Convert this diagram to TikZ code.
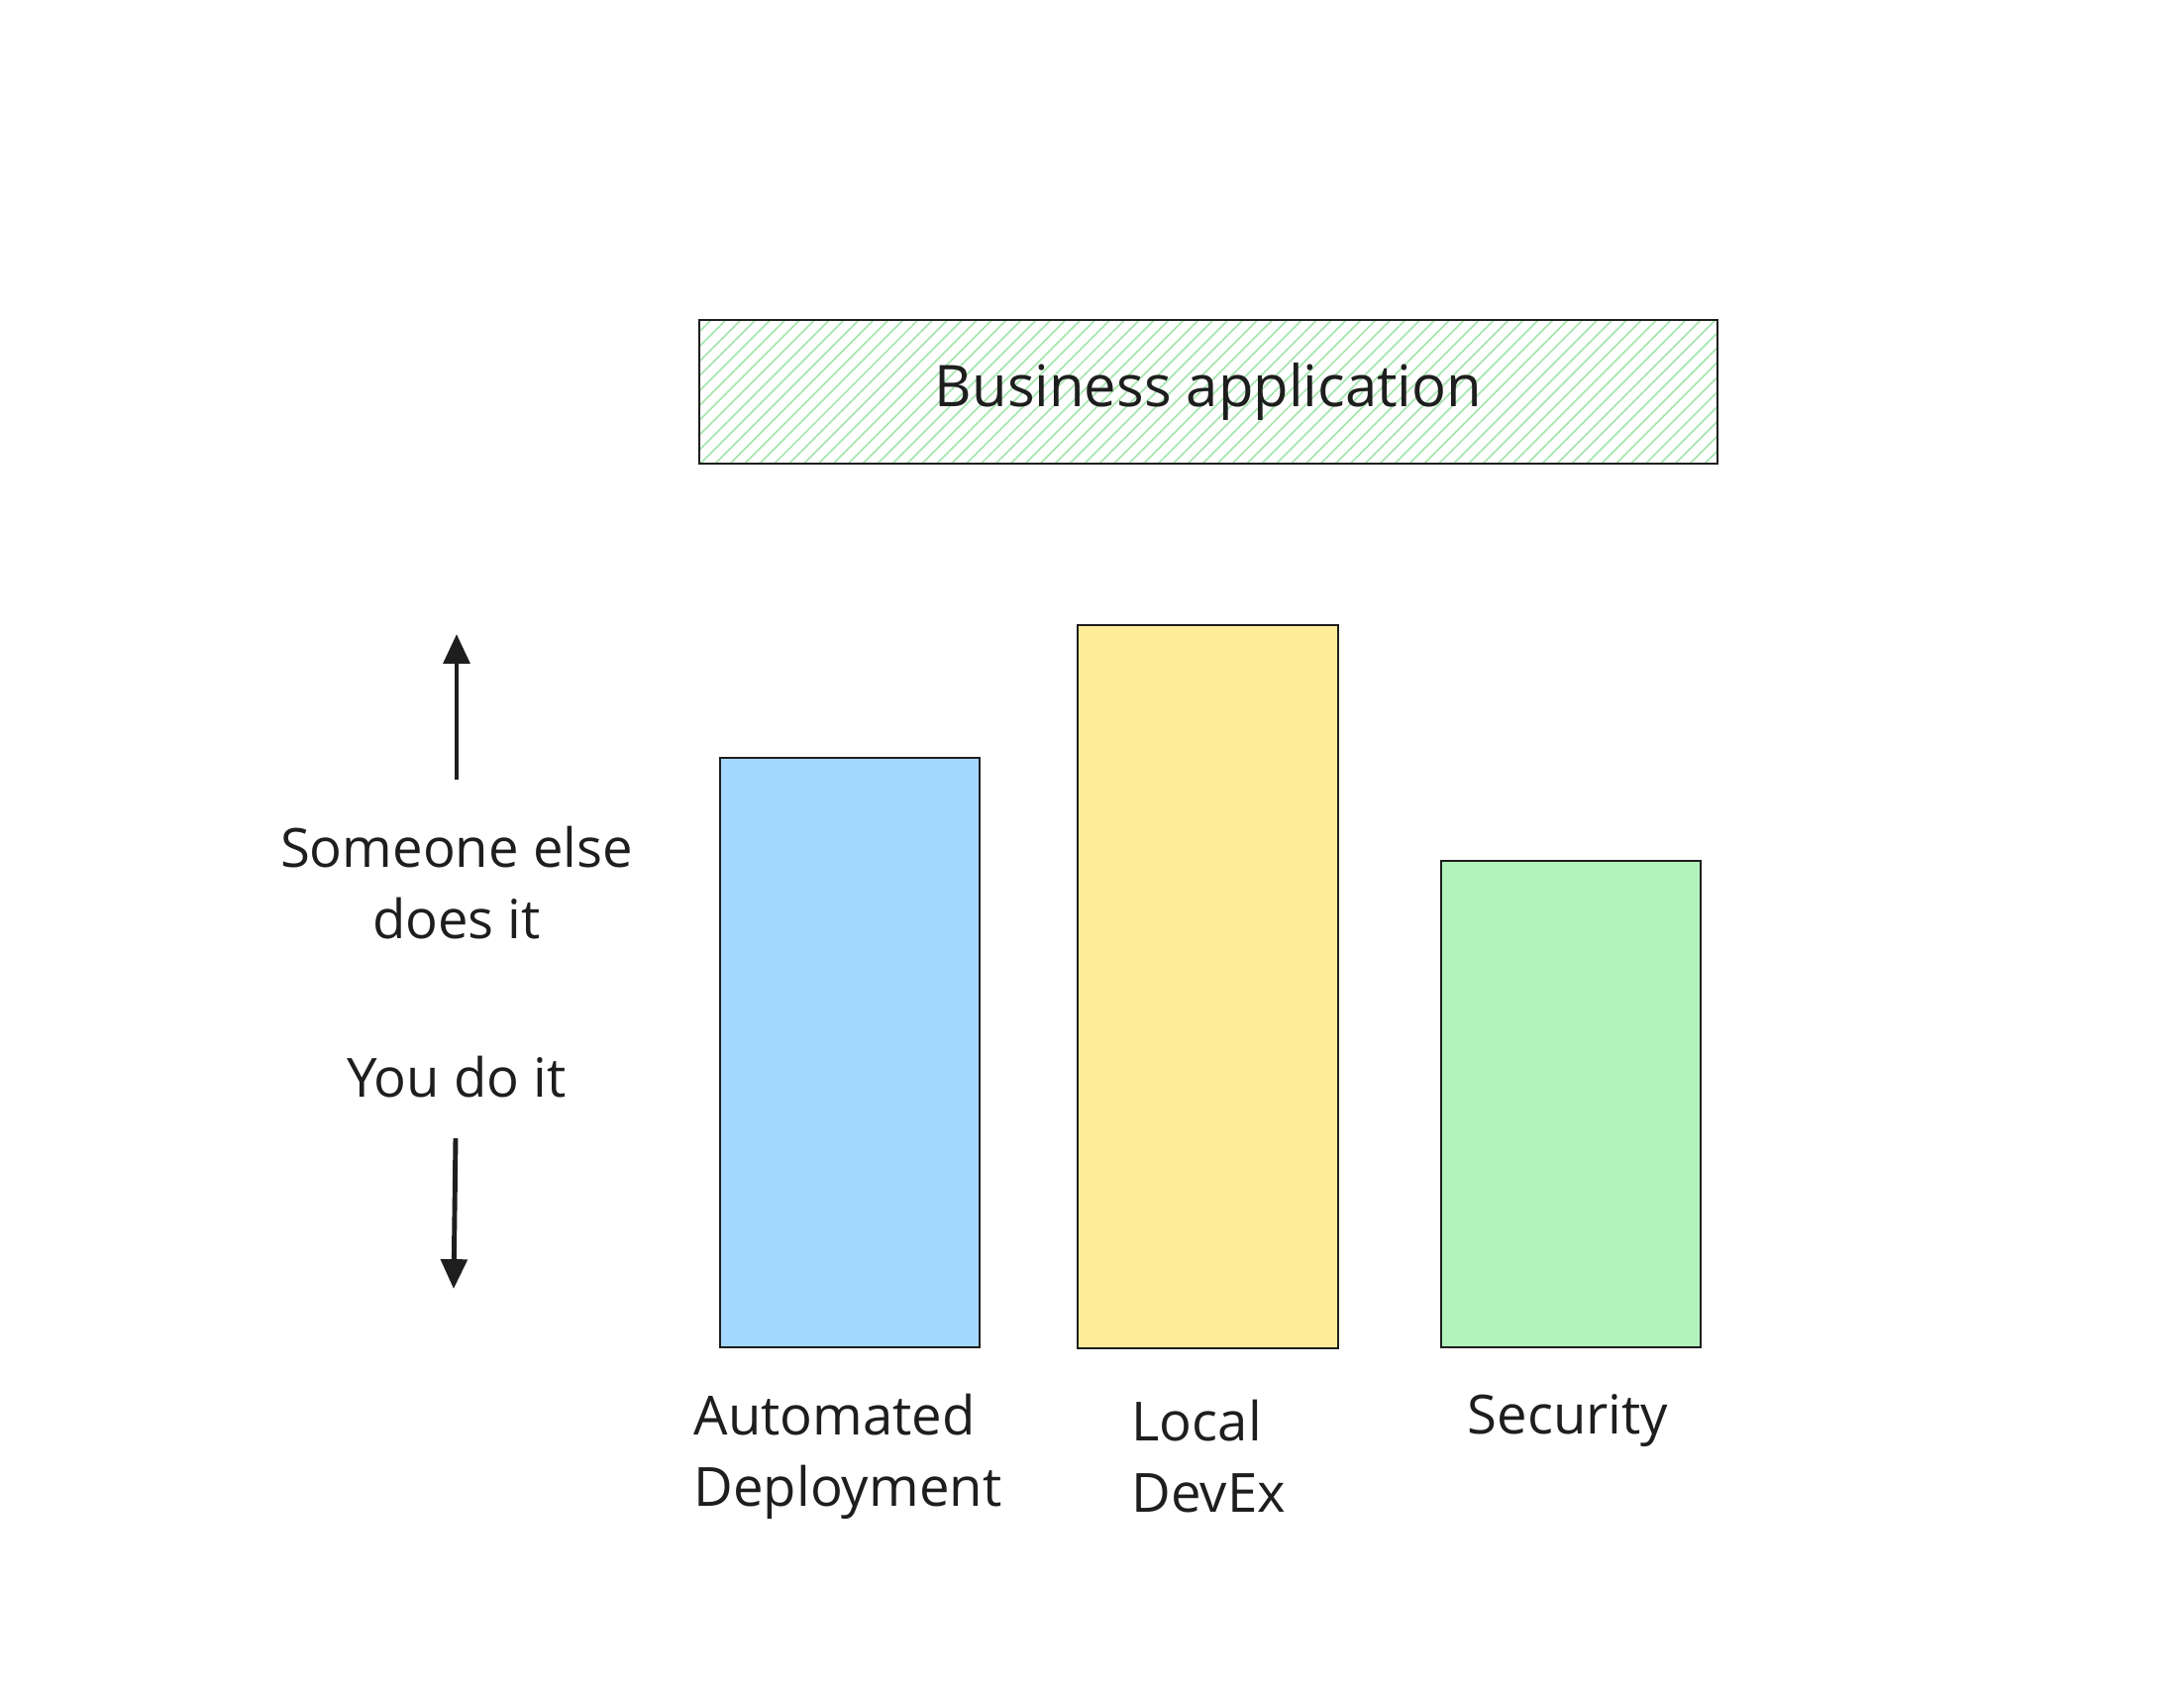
\documentclass[tikz,border=0pt]{standalone}
\usepackage{fontspec}
\setmainfont{Open Sans}
\usepackage{tikz}
\usetikzlibrary{arrows.meta,positioning,patterns.meta}

\definecolor{barblue}{HTML}{A5D8FF}
\definecolor{baryellow}{HTML}{FFEC99}
\definecolor{bargreen}{HTML}{B2F2BB}
\definecolor{hatchgreen}{HTML}{A8E6B0}
\definecolor{ink}{HTML}{1E1E1E}

\begin{document}
\begin{tikzpicture}[
    >={Triangle[length=8.5pt,width=7.5pt]},
    barre/.style={
        draw=ink,
        line width=0.8pt,
        inner sep=0pt
    },
    titre/.style={
        draw=ink,
        line width=0.8pt,
        minimum width=10.28cm,
        minimum height=1.45cm,
        pattern={Lines[angle=45,distance=3pt,line width=0.5pt]},
        pattern color=hatchgreen,
        font=\fontsize{16.5}{20}\selectfont
    },
    libelle/.style={
        font=\fontsize{15.5}{20.5}\selectfont,
        text=ink,
        inner sep=0pt
    },
    fleche/.style={
        ->,
        draw=ink,
        line width=1.4pt
    }
]

% Canvas
\useasboundingbox (0,0) rectangle (22.05,-17.12);

% Top box
\node[titre, text=ink] (app) at (12.20,-3.955) {Business application};

% Bars
\draw[barre, fill=barblue] (7.27,-13.60) rectangle (9.89,-7.65);
\draw[barre, fill=baryellow] (10.88,-13.61) rectangle (13.51,-6.31);
\draw[barre, fill=bargreen] (14.55,-13.60) rectangle (17.17,-8.69);

% Bar labels
\node[libelle, align=left, anchor=west] (deploy) at (7.00,-14.70)
{Automated\\Deployment};
\node[libelle, align=left, anchor=west] (devex) at (11.42,-14.70)
{Local\\DevEx};
\node[libelle, anchor=west] (secu) at (14.81,-14.34) {Security};

% Side legend
\node[libelle, align=center] (autre) at (4.61,-8.91)
{Someone else\\does it};
\node[libelle] (toi) at (4.61,-10.87) {You do it};

% Arrows
\coordinate (haut) at (4.61,-6.40);
\coordinate (bas) at (4.58,-13.01);
\coordinate (hautdep) at (4.61,-7.87);
\coordinate (basdep) at (4.60,-11.49);
\draw[fleche] (hautdep) -- (haut);
\draw[fleche] (basdep) -- (bas);

\end{tikzpicture}
\end{document}
